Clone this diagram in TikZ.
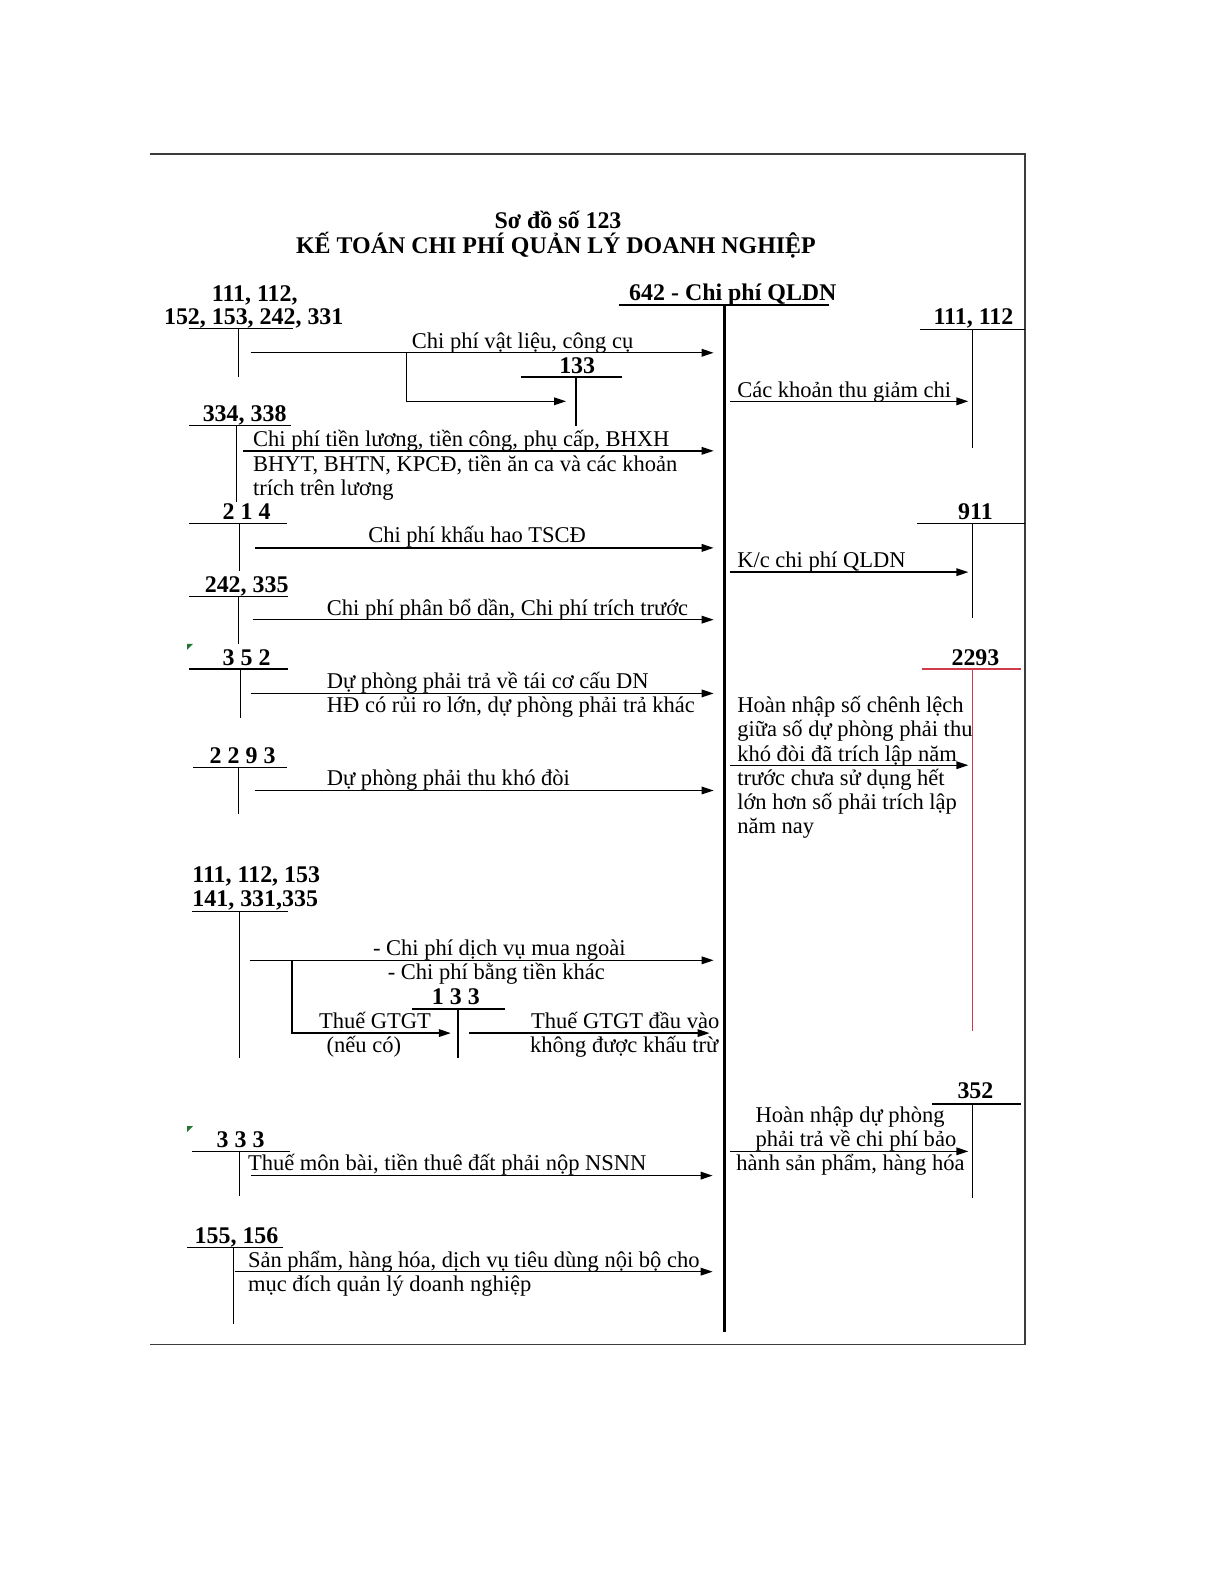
\documentclass[tikz,border=0pt]{standalone}
\usepackage{fontspec}
\setmainfont{Liberation Serif}
\usetikzlibrary{arrows.meta}
\definecolor{redacc}{RGB}{205,60,72}
\definecolor{framegray}{RGB}{60,60,60}
\definecolor{markgreen}{RGB}{30,120,50}
\begin{document}
\begin{tikzpicture}[x=0.50536bp,y=-0.50536bp,
  acc/.style={line width=0.7bp,black},
  axisline/.style={line width=1.6bp,black},
  arr/.style={acc,-{Triangle[length=6bp,width=3.8bp]}},
  framel/.style={line width=0.9bp,framegray},
  lbl/.style={font=\bfseries\fontsize{12}{14}\selectfont,inner sep=0pt},
  ttl/.style={font=\bfseries\fontsize{12}{14}\selectfont,inner sep=0pt,anchor=base},
  txt/.style={font=\fontsize{11.3}{12.4}\selectfont,inner sep=0pt,anchor=base west},
  txtc/.style={font=\fontsize{11.3}{12.4}\selectfont,inner sep=0pt,anchor=base}]
\useasboundingbox (0,0) rectangle (1212,1568);
\fill[white] (0,0) rectangle (1212,1568);

% frame
\coordinate (fTL) at (148,152); \coordinate (fTR) at (1014,152);
\coordinate (fBR) at (1014,1330); \coordinate (fBL) at (148,1330);
\draw[framel] (fTL) -- (fTR) -- (fBR) -- (fBL);

% title
\node[ttl] (title1) at (552,226) {Sơ đồ số 123};
\node[ttl] (title2) at (550,251) {KẾ TOÁN CHI PHÍ QUẢN LÝ DOANH NGHIỆP};

% main account 642
\node[lbl,anchor=base] (h642) at (725,297) {642 - Chi phí QLDN};
\coordinate (a642l) at (612,302); \coordinate (a642r) at (820,302);
\coordinate (a642t) at (717,302); \coordinate (a642b) at (717,1318);
\draw[acc,line width=1bp] (a642l) -- (a642r);
\draw[axisline] (a642t) -- (a642b);

% ---------- left accounts ----------
% 111,112,152,...
\node[lbl,anchor=base] (hL1a) at (252,298) {111, 112,};
\node[lbl,anchor=base] (hL1b) at (251,321) {152, 153, 242, 331};
\coordinate (L1l) at (187,325); \coordinate (L1r) at (290,325);
\coordinate (L1t) at (236,325); \coordinate (L1b) at (236,373);
\draw[acc] (L1l) -- (L1r); \draw[acc] (L1t) -- (L1b);
\coordinate (A1s) at (248,349); \coordinate (A1e) at (706,349);
\draw[arr] (A1s) -- (A1e);
\node[txtc] (tA1) at (517,345) {Chi phí vật liệu, công cụ};
\coordinate (B1s) at (402,349); \coordinate (B1e) at (560,397);
\draw[arr] (B1s) |- (B1e);
\node[lbl,anchor=base] (h133a) at (571,369) {133};
\coordinate (K1l) at (515,373); \coordinate (K1r) at (615,373);
\coordinate (K1t) at (570,373); \coordinate (K1b) at (570,421);
\draw[acc] (K1l) -- (K1r); \draw[acc] (K1t) -- (K1b);

% 334, 338
\node[lbl,anchor=base] (hL2) at (242,417) {334, 338};
\coordinate (L2l) at (187,421); \coordinate (L2r) at (288,421);
\coordinate (L2t) at (234,421); \coordinate (L2b) at (234,497);
\draw[acc] (L2l) -- (L2r); \draw[acc] (L2t) -- (L2b);
\coordinate (A2s) at (240,446); \coordinate (A2e) at (706,446);
\draw[arr] (A2s) -- (A2e);
\node[txt] (tA2a) at (250,442) {Chi phí tiền lương, tiền công, phụ cấp, BHXH};
\node[txt] (tA2b) at (250,466) {BHYT, BHTN, KPCĐ, tiền ăn ca và các khoản};
\node[txt] (tA2c) at (250,490) {trích trên lương};

% 214
\node[lbl,anchor=base] (hL3) at (244,514) {2 1 4};
\coordinate (L3l) at (187,518); \coordinate (L3r) at (284,518);
\coordinate (L3t) at (237,518); \coordinate (L3b) at (237,565);
\draw[acc] (L3l) -- (L3r); \draw[acc] (L3t) -- (L3b);
\coordinate (A3s) at (252,542); \coordinate (A3e) at (706,542);
\draw[arr] (A3s) -- (A3e);
\node[txtc] (tA3) at (472,537) {Chi phí khấu hao TSCĐ};

% 242, 335
\node[lbl,anchor=base] (hL4) at (244,586) {242, 335};
\coordinate (L4l) at (187,590); \coordinate (L4r) at (285,590);
\coordinate (L4t) at (236,590); \coordinate (L4b) at (236,637);
\draw[acc] (L4l) -- (L4r); \draw[acc] (L4t) -- (L4b);
\coordinate (A4s) at (250,613); \coordinate (A4e) at (706,613);
\draw[arr] (A4s) -- (A4e);
\node[txt] (tA4) at (323,609) {Chi phí phân bổ dần, Chi phí trích trước};

% 352 (left)
\fill[markgreen] (185,637) -- (191,637) -- (185,643) -- cycle;
\node[lbl,anchor=base] (hL5) at (244,658) {3 5 2};
\coordinate (L5l) at (187,662); \coordinate (L5r) at (285,662);
\coordinate (L5t) at (238,662); \coordinate (L5b) at (238,710);
\draw[acc] (L5l) -- (L5r); \draw[acc] (L5t) -- (L5b);
\coordinate (A5s) at (248,686); \coordinate (A5e) at (706,686);
\draw[arr] (A5s) -- (A5e);
\node[txt] (tA5a) at (323,681) {Dự phòng phải trả về tái cơ cấu DN};
\node[txt] (tA5b) at (323,705) {HĐ có rủi ro lớn, dự phòng phải trả khác};

% 2293 (left)
\node[lbl,anchor=base] (hL6) at (240,755) {2 2 9 3};
\coordinate (L6l) at (191,759); \coordinate (L6r) at (284,759);
\coordinate (L6t) at (236,759); \coordinate (L6b) at (236,805);
\draw[acc] (L6l) -- (L6r); \draw[acc] (L6t) -- (L6b);
\coordinate (A6s) at (252,782); \coordinate (A6e) at (706,782);
\draw[arr] (A6s) -- (A6e);
\node[txt] (tA6) at (323,777) {Dự phòng phải thu khó đòi};

% 111,112,153,141,331,335
\node[lbl,anchor=base west] (hL7a) at (190,873) {111, 112, 153};
\node[lbl,anchor=base west] (hL7b) at (190,897) {141, 331,335};
\coordinate (L7l) at (190,902); \coordinate (L7r) at (285,902);
\coordinate (L7t) at (237,902); \coordinate (L7b) at (237,1047);
\draw[acc] (L7l) -- (L7r); \draw[acc] (L7t) -- (L7b);
\coordinate (A7s) at (247,950); \coordinate (A7e) at (706,950);
\draw[arr] (A7s) -- (A7e);
\node[txtc] (tA7a) at (494,945) {- Chi phí dịch vụ mua ngoài};
\node[txtc] (tA7b) at (491,969) {- Chi phí bằng tiền khác};
\coordinate (B7s) at (289,950); \coordinate (B7e) at (446,1022);
\draw[arr] (B7s) |- (B7e);
\node[txtc] (tB7a) at (371,1017) {Thuế GTGT};
\node[txtc] (tB7b) at (360,1041) {(nếu có)};
\node[lbl,anchor=base] (h133b) at (451,994) {1 3 3};
\coordinate (K2l) at (408,998); \coordinate (K2r) at (500,998);
\coordinate (K2t) at (453,998); \coordinate (K2b) at (453,1047);
\draw[acc] (K2l) -- (K2r); \draw[acc] (K2t) -- (K2b);
\coordinate (A8s) at (464,1022); \coordinate (A8e) at (702,1022);
\draw[arr] (A8s) -- (A8e);
\node[txt] (tA8a) at (525,1017) {Thuế GTGT đầu vào};
\node[txt] (tA8b) at (524,1041) {không được khấu trừ};

% 333
\fill[markgreen] (185,1114) -- (191,1114) -- (185,1120) -- cycle;
\node[lbl,anchor=base] (hL8) at (238,1135) {3 3 3};
\coordinate (L8l) at (190,1139); \coordinate (L8r) at (287,1139);
\coordinate (L8t) at (237,1139); \coordinate (L8b) at (237,1183);
\draw[acc] (L8l) -- (L8r); \draw[acc] (L8t) -- (L8b);
\coordinate (A9s) at (248,1163); \coordinate (A9e) at (705,1163);
\draw[arr] (A9s) -- (A9e);
\node[txt] (tA9) at (245,1158) {Thuế môn bài, tiền thuê đất phải nộp NSNN};

% 155, 156
\node[lbl,anchor=base] (hL9) at (234,1230) {155, 156};
\coordinate (L9l) at (185,1234); \coordinate (L9r) at (280,1234);
\coordinate (L9t) at (231,1234); \coordinate (L9b) at (231,1310);
\draw[acc] (L9l) -- (L9r); \draw[acc] (L9t) -- (L9b);
\coordinate (A10s) at (232,1258); \coordinate (A10e) at (705,1258);
\draw[arr] (A10s) -- (A10e);
\node[txt] (tA10a) at (245,1254) {Sản phẩm, hàng hóa, dịch vụ tiêu dùng nội bộ cho};
\node[txt] (tA10b) at (245,1278) {mục đích quản lý doanh nghiệp};

% ---------- right accounts ----------
% 111, 112
\node[lbl,anchor=base] (hR1) at (963,321) {111, 112};
\coordinate (R1l) at (910,326); \coordinate (R1r) at (1014,326);
\coordinate (R1t) at (962,326); \coordinate (R1b) at (962,443);
\draw[acc] (R1l) -- (R1r); \draw[acc] (R1t) -- (R1b);
\coordinate (C1s) at (722,397); \coordinate (C1e) at (958,397);
\draw[arr] (C1s) -- (C1e);
\node[txt] (tC1) at (729,393) {Các khoản thu giảm chi};

% 911
\node[lbl,anchor=base] (hR2) at (965,514) {911};
\coordinate (R2l) at (907,518); \coordinate (R2r) at (1014,518);
\coordinate (R2t) at (962,518); \coordinate (R2b) at (962,611);
\draw[acc] (R2l) -- (R2r); \draw[acc] (R2t) -- (R2b);
\coordinate (C2s) at (722,566); \coordinate (C2e) at (958,566);
\draw[arr] (C2s) -- (C2e);
\node[txt] (tC2) at (729,561) {K/c chi phí QLDN};

% 2293 (right, red)
\node[lbl,anchor=base] (hR3) at (965,658) {2293};
\coordinate (R3l) at (912,662); \coordinate (R3r) at (1010,662);
\coordinate (R3t) at (962,662); \coordinate (R3b) at (962,1020);
\draw[acc,redacc] (R3l) -- (R3r); \draw[acc,redacc] (R3t) -- (R3b);
\coordinate (C3s) at (722,757); \coordinate (C3e) at (958,757);
\draw[arr] (C3s) -- (C3e);
\node[txt] (tC3a) at (729,705) {Hoàn nhập số chênh lệch};
\node[txt] (tC3b) at (729,729) {giữa số dự phòng phải thu};
\node[txt] (tC3c) at (729,753) {khó đòi đã trích lập năm};
\node[txt] (tC3d) at (729,777) {trước chưa sử dụng hết};
\node[txt] (tC3e) at (729,801) {lớn hơn số phải trích lập};
\node[txt] (tC3f) at (729,825) {năm nay};

% 352 (right)
\node[lbl,anchor=base] (hR4) at (965,1087) {352};
\coordinate (R4l) at (922,1092); \coordinate (R4r) at (1010,1092);
\coordinate (R4t) at (962,1092); \coordinate (R4b) at (962,1185);
\draw[acc] (R4l) -- (R4r); \draw[acc] (R4t) -- (R4b);
\coordinate (C4s) at (722,1139); \coordinate (C4e) at (958,1139);
\draw[arr] (C4s) -- (C4e);
\node[txt] (tC4a) at (747,1110) {Hoàn nhập dự phòng};
\node[txt] (tC4b) at (747,1134) {phải trả về chi phí bảo};
\node[txt] (tC4c) at (728,1158) {hành sản phẩm, hàng hóa};
\end{tikzpicture}
\end{document}
